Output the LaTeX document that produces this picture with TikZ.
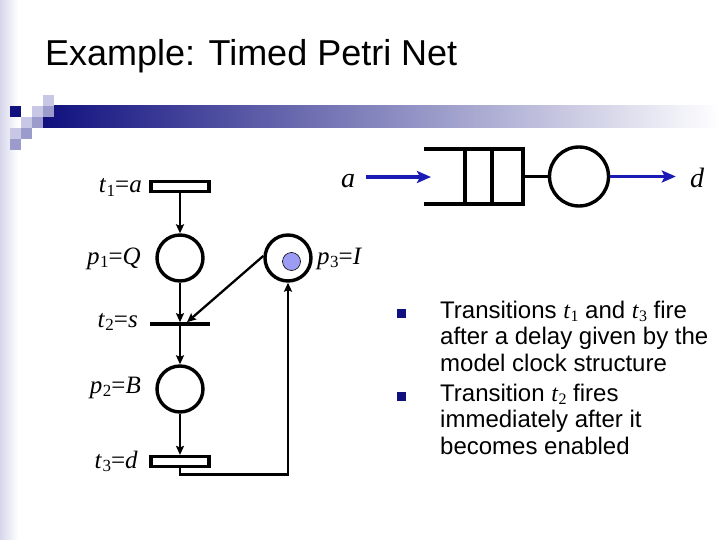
\documentclass[tikz,border=0pt]{standalone}
\usepackage{fontspec}
\setmainfont{Liberation Serif}
\newfontfamily\arialfont{Liberation Sans}
\newfontfamily\timesfont{Liberation Serif}
\usetikzlibrary{arrows.meta}
\definecolor{navy}{HTML}{10107F}
\definecolor{sqlight}{HTML}{C8C8E6}
\definecolor{sqmed}{HTML}{9C9CCC}
\definecolor{strip}{HTML}{D6D6EC}
\definecolor{qblue}{HTML}{1A1AB4}
\definecolor{tokcol}{HTML}{9C9CF4}
\newcommand\pnsub[1]{\raisebox{-0.3ex}{\fontsize{17}{18}\selectfont #1}}
\newcommand\pnlab[3]{\textit{#1}\kern0.5pt\pnsub{#2}=\textit{#3}}
\newcommand\pnvar[2]{{\timesfont\textit{t}\raisebox{-0.3ex}{\fontsize{16}{17}\selectfont #2}}}
\tikzset{
  trans/.style={draw, line width=3.2pt, minimum width=58pt, minimum height=10pt, inner sep=0pt, fill=white},
  bar/.style={fill=black, minimum width=60pt, minimum height=3.2pt, inner sep=0pt},
  place/.style={circle, draw, line width=3.4pt, minimum size=46pt, inner sep=0pt},
  pnarc/.style={line width=2.3pt, -{Stealth[length=9pt,width=8pt,inset=1.5pt]}},
  pnlabel/.style={font=\fontsize{25}{28}\selectfont, inner sep=0pt},
  qlabel/.style={font=\fontsize{28}{32}\selectfont\itshape, inner sep=0pt, anchor=base},
  qarrow/.style={qblue, line width=3.6pt, -{Stealth[length=14pt,width=12pt,inset=3pt]}},
  qline/.style={line width=3.4pt},
  bsq/.style={fill=navy, minimum size=9pt, inner sep=0pt},
  btext/.style={font=\arialfont\fontsize{24}{26}\selectfont, anchor=base west, inner sep=0pt},
  deco/.style={minimum size=11pt, inner sep=0pt}
}
\begin{document}
\begin{tikzpicture}[x=1pt,y=-1pt]
\useasboundingbox (0,0) rectangle (720,540);
\fill[white] (0,0) rectangle (720,540);
% left strip and header bar
\shade[left color=strip, right color=white] (0,0) rectangle (18,540);
\shade[left color=navy, right color=white] (43,106) rectangle (720,128);
% decorative squares (cells 11pt)
\node[deco, fill=sqlight] (s1) at (48.5,100.5) {};
\node[deco, fill=navy] (s2) at (15.5,111.5) {};
\node[deco, fill=sqlight] (s3) at (37.5,111.5) {};
\node[deco, fill=sqmed] (s4) at (48.5,111.5) {};
\node[deco, fill=sqlight] (s5) at (26.5,122.5) {};
\node[deco, fill=sqmed] (s6) at (37.5,122.5) {};
\node[deco, fill=sqlight] (s7) at (15.5,133.5) {};
\node[deco, fill=sqmed] (s8) at (26.5,133.5) {};
\node[deco, fill=sqmed] (s9) at (15.5,144.5) {};
% title
\node[font=\arialfont\fontsize{36}{40}\selectfont, anchor=base west, inner sep=0pt] (title) at (45,66) {Example: Timed Petri Net};

% Petri net
\node[trans] (t1) at (180,186.5) {};
\node[place] (p1) at (180,258) {};
\node[bar] (t2) at (180,324) {};
\node[place] (p2) at (180,389) {};
\node[trans] (t3) at (180,461.5) {};
\node[place] (p3) at (288,258) {};
\node[circle, draw, line width=0.6pt, fill=tokcol, minimum size=18pt, inner sep=0pt] (tok) at (291.5,261.5) {};

\node[pnlabel, anchor=base east] (lt1) at (142,193) {\pnlab{t}{1}{a}};
\node[pnlabel, anchor=base east] (lp1) at (141,264) {\pnlab{p}{1}{Q}};
\node[pnlabel, anchor=base east] (lt2) at (138,327) {\pnlab{t}{2}{s}};
\node[pnlabel, anchor=base east] (lp2) at (141,393) {\pnlab{p}{2}{B}};
\node[pnlabel, anchor=base east] (lt3) at (138,468) {\pnlab{t}{3}{d}};
\node[pnlabel, anchor=base west] (lp3) at (317,264) {\pnlab{p}{3}{I}};

\draw[pnarc] (t1.south) -- (p1.north);
\draw[pnarc] (p1.south) -- (t2.north);
\draw[pnarc] (t2.south) -- (p2.north);
\draw[pnarc] (p2.south) -- (t3.north);
\draw[pnarc] (p3.175) -- ([xshift=7pt]t2.north);
\draw[pnarc] (t3.south) -- ++(0,6.5) -| (p3.south);

% queueing system
\draw[qline] (424,149) -- (523,149) -- (523,204) -- (424,204);
\draw[qline] (465,149) -- (465,204);
\draw[qline] (492,149) -- (492,204);
\coordinate (qout) at (523,176.5);
\coordinate (qin) at (431,177);
\node[circle, draw, line width=3.4pt, minimum size=59pt, inner sep=0pt] (server) at (579,176.5) {};
\draw[qline] (qout) -- (server.west);
\node[qlabel] (la) at (348,188) {a};
\node[qlabel] (ld) at (697,188) {d};
\draw[qarrow] ([xshift=11pt]la.east |- qin) -- (qin);
\draw[qarrow] (server.east) -- ([xshift=-14pt]ld.west |- server.east);

% bullets
\node[bsq] (b1) at (401.5,313.5) {};
\node[bsq] (b2) at (401.5,396.5) {};
\node[btext] (l1) at (440,318) {Transitions \pnvar{t}{1} and \pnvar{t}{3} fire};
\node[btext] (l2) at (440,344.5) {after a delay given by the};
\node[btext] (l3) at (440,371) {model clock structure};
\node[btext] (l4) at (440,401) {Transition \pnvar{t}{2} fires};
\node[btext] (l5) at (440,427.5) {immediately after it};
\node[btext] (l6) at (440,454) {becomes enabled};
\end{tikzpicture}
\end{document}
